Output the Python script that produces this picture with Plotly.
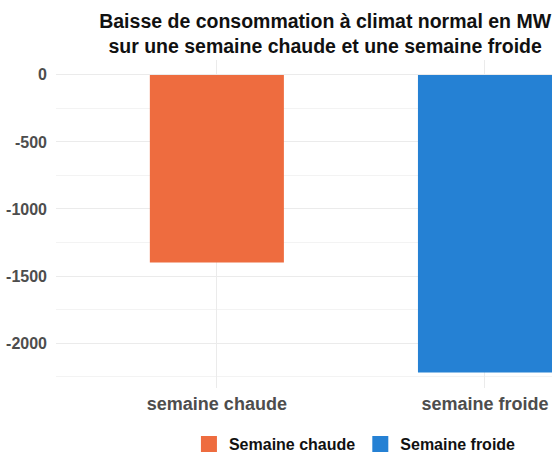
import plotly.graph_objects as go

categories = ["semaine chaude", "semaine froide"]
values = [-1400, -2220]
series_names = ["Semaine chaude", "Semaine froide"]
colors = ["#EE6C3F", "#2581D4"]
y_ticks = [0, -500, -1000, -1500, -2000]

fig = go.Figure()
for cat, val, name, col in zip(categories, values, series_names, colors):
    fig.add_trace(go.Bar(x=[cat], y=[val], name=name, marker=dict(color=col, line=dict(width=0)),
                         width=0.5, showlegend=False))
for name, col in zip(series_names, colors):
    fig.add_trace(go.Scatter(x=[None], y=[None], mode="markers", name=name,
                             marker=dict(symbol="square", size=20, color=col)))

fig.update_layout(
    width=552, height=456,
    margin=dict(l=56, r=0, t=60, b=68),
    paper_bgcolor="white", plot_bgcolor="white",
    font=dict(family="Liberation Sans, Arial, sans-serif"),
    title=dict(text="<b>Baisse de consommation à climat normal en MW<br>sur une semaine chaude et une semaine froide</b>",
               x=0.589, xref="container", xanchor="center", y=0.939, yref="container", yanchor="middle",
               font=dict(size=19.5, color="#111111")),
    showlegend=True,
    legend=dict(orientation="h", x=0.643, xref="container", xanchor="center",
                y=0.026, yref="container", yanchor="middle",
                font=dict(size=16, color="#111111", family="Liberation Sans, Arial, sans-serif", weight="bold"),
                itemsizing="trace"),
)
fig.update_xaxes(range=[-0.6, 1.25], showgrid=True, gridcolor="#ebebeb", gridwidth=1,
                 tickfont=dict(size=18, color="#4d4d4d", weight="bold"), ticks="", zeroline=False,
                 showline=False, fixedrange=True, ticklabelstandoff=3)
fig.update_yaxes(range=[-2335, 111], tickvals=y_ticks, ticktext=[str(v) for v in y_ticks],
                 showgrid=True, gridcolor="#ebebeb", gridwidth=1,
                 minor=dict(dtick=250, tick0=0, showgrid=True, gridcolor="#f3f3f3", gridwidth=1),
                 tickfont=dict(size=16, color="#4d4d4d", weight="bold"), ticks="", zeroline=False,
                 showline=False, fixedrange=True, ticklabelstandoff=8)

fig.write_html("out.html", config={"displayModeBar": False},
               post_script="document.body.style.margin='0';document.body.style.overflow='hidden';")
